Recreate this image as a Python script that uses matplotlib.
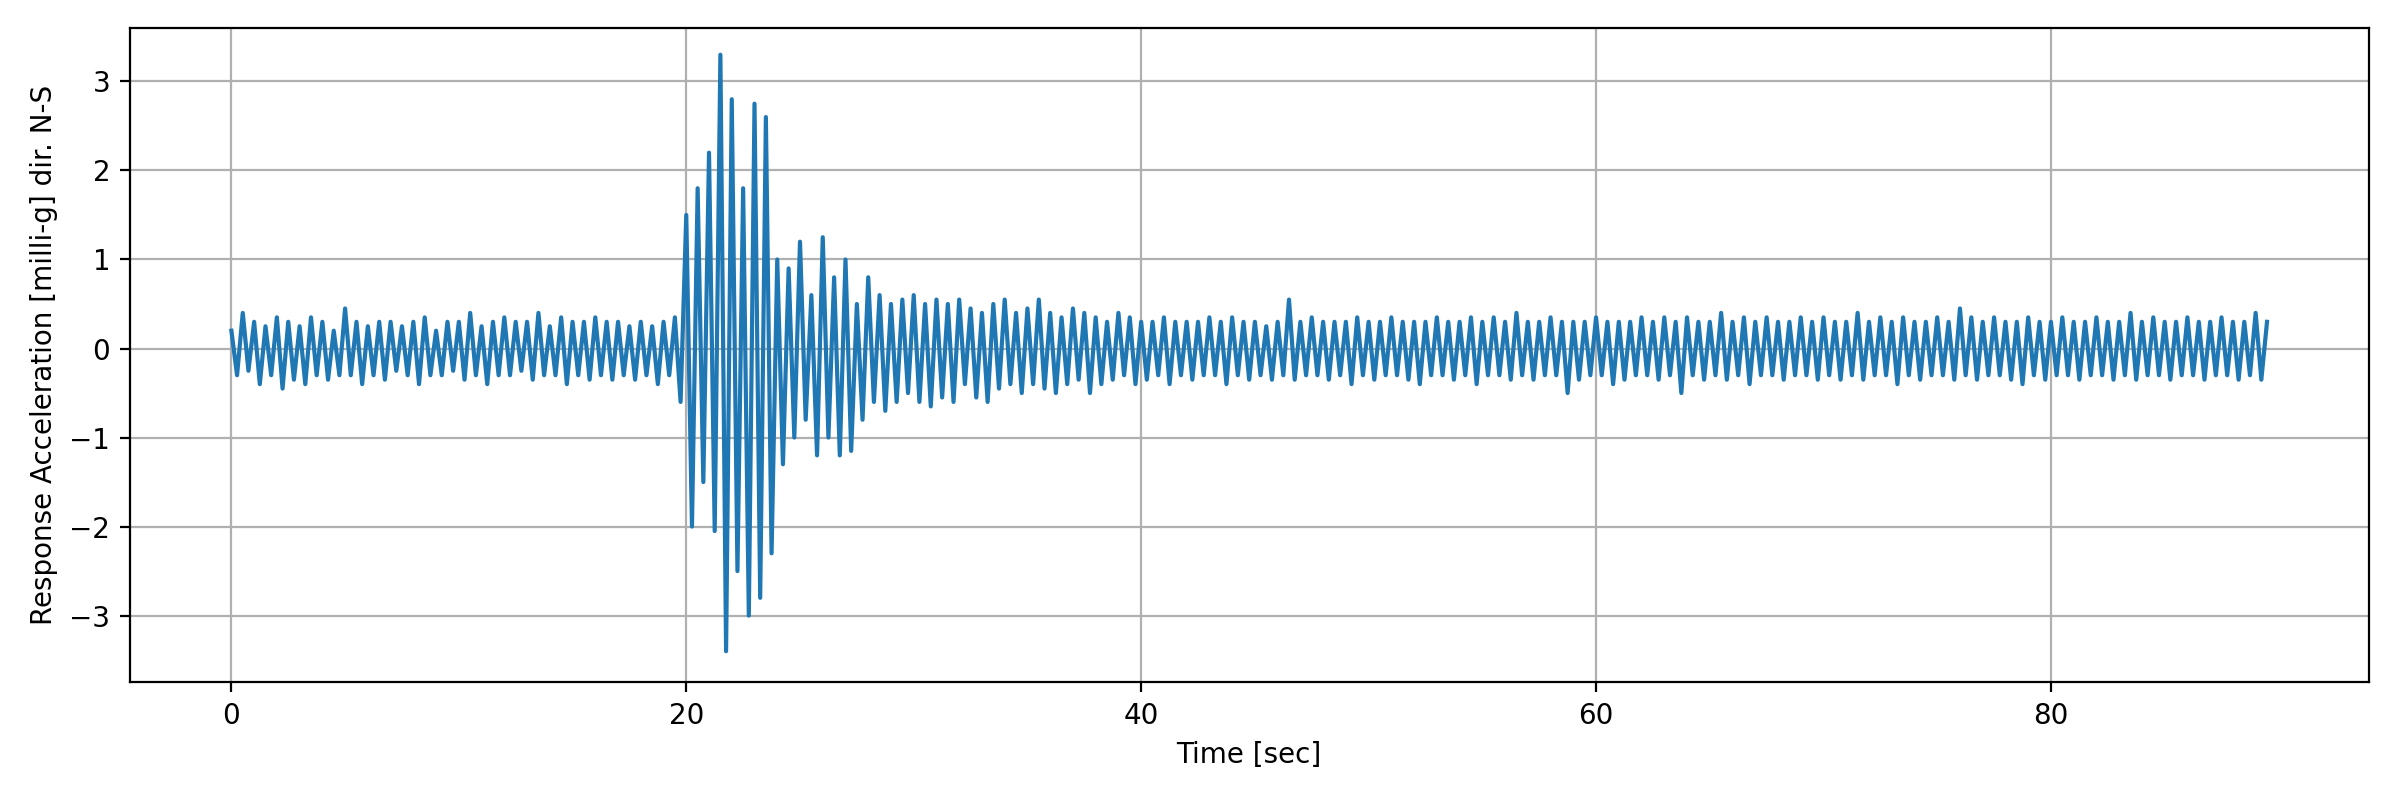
import numpy as np
import matplotlib
matplotlib.use("Agg")
import matplotlib.pyplot as plt

# sample spacing of the values (seconds)
dt = 0.25

# pre-event noise, 0 - 19.75 s
pre = [0.2, -0.3, 0.4, -0.25, 0.3, -0.4, 0.25, -0.3, 0.35, -0.45, 0.3, -0.35, 0.25, -0.4, 0.35, -0.3,
       0.3, -0.35, 0.2, -0.3, 0.45, -0.3, 0.3, -0.4, 0.25, -0.3, 0.3, -0.35, 0.3, -0.25, 0.25, -0.3,
       0.3, -0.4, 0.35, -0.3, 0.2, -0.3, 0.3, -0.25, 0.3, -0.35, 0.4, -0.3, 0.25, -0.4, 0.3, -0.3,
       0.35, -0.3, 0.3, -0.25, 0.3, -0.35, 0.4, -0.3, 0.25, -0.3, 0.35, -0.4, 0.3, -0.3, 0.3, -0.35,
       0.35, -0.3, 0.3, -0.35, 0.3, -0.3, 0.25, -0.35, 0.3, -0.3, 0.25, -0.4, 0.3, -0.3, 0.35, -0.6]
# strong motion, 20 - 29.75 s
event = [1.5, -2.0, 1.8, -1.5, 2.2, -2.05, 3.3, -3.4, 2.8, -2.5, 1.8, -3.0, 2.75, -2.8, 2.6, -2.3,
         1.0, -1.3, 0.9, -1.0, 1.2, -0.8, 0.6, -1.2, 1.25, -1.0, 0.8, -1.2, 1.0, -1.15, 0.5, -0.8,
         0.8, -0.6, 0.6, -0.7, 0.5, -0.6, 0.55, -0.5]
# decaying coda and background, 30 - 89.5 s
coda_a = [0.6, -0.6, 0.5, -0.65, 0.55, -0.55, 0.5, -0.6, 0.55, -0.4, 0.45, -0.55, 0.4, -0.6, 0.5, -0.45,
          0.55, -0.4, 0.4, -0.5, 0.45, -0.4, 0.55, -0.45, 0.4, -0.5, 0.35, -0.4, 0.45, -0.35, 0.4, -0.5,
          0.35, -0.4, 0.3, -0.35, 0.4, -0.3, 0.35, -0.4, 0.3, -0.35, 0.3, -0.3, 0.35, -0.4, 0.3, -0.3,
          0.3, -0.35, 0.3, -0.3, 0.35, -0.3, 0.3, -0.4, 0.35, -0.3, 0.3, -0.35, 0.3, -0.3, 0.25, -0.35,
          0.3, -0.3, 0.55, -0.35, 0.3, -0.3, 0.35, -0.3, 0.3, -0.35, 0.3, -0.3, 0.3, -0.4, 0.35, -0.3]
coda_b = [0.3, -0.35, 0.3, -0.3, 0.35, -0.3, 0.3, -0.35, 0.3, -0.4, 0.3, -0.3, 0.35, -0.3, 0.3, -0.35,
          0.3, -0.3, 0.35, -0.4, 0.3, -0.3, 0.35, -0.3, 0.3, -0.35, 0.4, -0.3, 0.3, -0.35, 0.3, -0.3,
          0.35, -0.3, 0.3, -0.5, 0.3, -0.35, 0.3, -0.3, 0.35, -0.3, 0.3, -0.4, 0.3, -0.35, 0.3, -0.3,
          0.35, -0.3, 0.3, -0.35, 0.35, -0.3, 0.3, -0.5, 0.35, -0.3, 0.3, -0.35, 0.3, -0.3, 0.4, -0.35,
          0.3, -0.3, 0.35, -0.4, 0.3, -0.3, 0.35, -0.3, 0.3, -0.35, 0.3, -0.3, 0.35, -0.3, 0.3, -0.35]
coda_c = [0.35, -0.3, 0.3, -0.35, 0.3, -0.3, 0.4, -0.35, 0.3, -0.3, 0.35, -0.3, 0.3, -0.4, 0.35, -0.3,
          0.3, -0.35, 0.3, -0.3, 0.35, -0.3, 0.3, -0.35, 0.45, -0.3, 0.35, -0.35, 0.3, -0.3, 0.35, -0.3,
          0.3, -0.35, 0.3, -0.4, 0.35, -0.3, 0.3, -0.35, 0.3, -0.3, 0.35, -0.3, 0.3, -0.35, 0.3, -0.3,
          0.35, -0.3, 0.3, -0.35, 0.3, -0.3, 0.4, -0.35, 0.3, -0.3, 0.35, -0.3, 0.3, -0.35, 0.3, -0.3,
          0.35, -0.3, 0.3, -0.35, 0.3, -0.3, 0.35, -0.3, 0.3, -0.35, 0.3, -0.3, 0.4, -0.35, 0.3]
acc = np.array(pre + event + coda_a + coda_b + coda_c)
time = np.arange(len(acc)) * dt

fig, ax = plt.subplots(figsize=(12, 4), dpi=200)
ax.plot(time, acc, color="#1f77b4", linewidth=1.5)
ax.set_xlabel("Time [sec]")
ax.set_ylabel("Response Acceleration [milli-g] dir. N-S")
ax.set_ylim(-3.75, 3.6)
ax.grid(True)
fig.subplots_adjust(left=0.054, right=0.987, top=0.965, bottom=0.147)
fig.savefig("out.png", dpi=200)
